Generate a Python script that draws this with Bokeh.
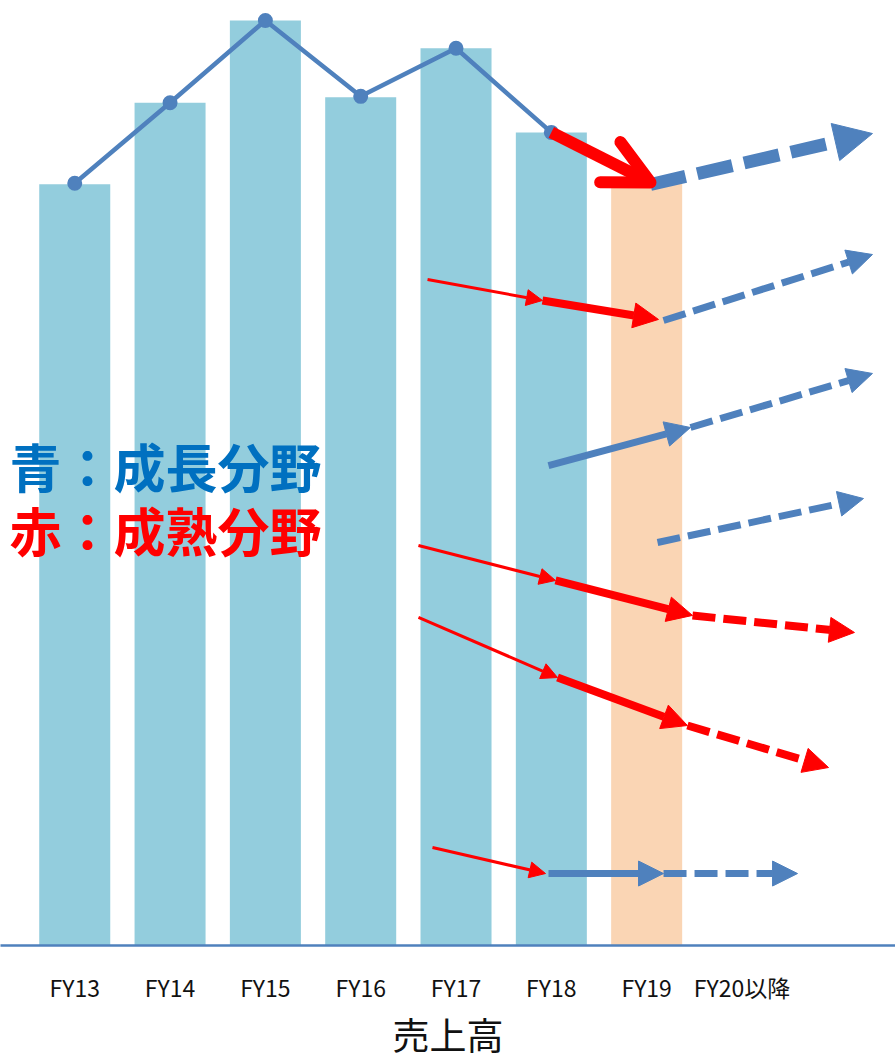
from bokeh.plotting import figure
from bokeh.models import (Range1d, FixedTicker, Arrow, NormalHead, OpenHead,
                          ColumnDataSource, Label)
from bokeh.embed import file_html
from bokeh.resources import INLINE

# ---------------- data ----------------
years = ["FY13", "FY14", "FY15", "FY16", "FY17", "FY18", "FY19", "FY20以降"]
sales = [82.3, 91.1, 100.0, 91.7, 97.0, 87.9, 82.7]          # FY13..FY19 (FY19 = forecast)
trend = [82.4, 91.1, 100.0, 91.8, 97.0, 87.9]                  # actual line FY13..FY18

# trend arrows: (x = year index, y = sales scale)
thin_red = dict(x0=[3.701, 3.606, 3.606, 3.753], y0=[72.0, 43.24, 35.46, 10.59],
                x1=[4.907, 5.044, 5.065, 4.939], y1=[69.73, 39.46, 28.97, 7.78])
thick_red = dict(x0=[4.907, 5.044, 5.065], y0=[69.73, 39.46, 28.97],
                 x1=[6.124, 6.481, 6.428], y1=[67.68, 35.68, 23.78])
red_future = dict(x0=[6.481, 6.428], y0=[35.68, 23.78],
                  x1=[8.180, 7.908], y1=[33.84, 19.24])
blue_now = dict(x0=[4.970, 4.970], y0=[51.89, 7.78],
                x1=[6.460, 6.177], y1=[56.0, 7.78])
blue_future = dict(x0=[6.177, 6.460, 6.114, 6.177], y0=[67.57, 56.0, 43.57, 7.78],
                   x1=[8.369, 8.369, 8.275, 7.583], y1=[74.70, 61.84, 48.32, 7.78])
total_now = dict(x0=[5.0], y0=[87.9], x1=[6.040], y1=[82.49])
total_future = dict(x0=[6.040], y0=[82.27], x1=[8.369], y1=[87.78])

legend_blue = "青：成長分野"
legend_red = "赤：成熟分野"
axis_title = "売上高"

# ---------------- style ----------------
BAR = "#93CDDD"
FCST = "#FAD5B4"
LINE = "#4F81BD"
RED = "#FF0000"
TXT_BLUE = "#0070C0"
FONT = "Noto Sans CJK JP"

p = figure(width=895, height=1064, output_backend="svg", toolbar_location=None,
           x_range=Range1d(-0.7789, 8.6106), y_range=Range1d(0, 102.16),
           min_border_left=0, min_border_right=0, min_border_top=0, min_border_bottom=119)
p.outline_line_color = None
p.grid.visible = False
p.yaxis.visible = False
p.background_fill_color = "white"
p.border_fill_color = "white"

idx = list(range(len(sales)))
colors = [BAR] * 6 + [FCST]
p.vbar(x=idx, top=sales, bottom=0, width=0.745, fill_color=colors, line_color=None)

p.line(x=idx[:6], y=trend, line_color=LINE, line_width=4.5)
p.scatter(x=idx[:6], y=trend, size=15, fill_color=LINE, line_color=None)


def arrows(d, color, width, head, dash="solid"):
    src = ColumnDataSource(d)
    p.add_layout(Arrow(x_start="x0", y_start="y0", x_end="x1", y_end="y1", source=src,
                       line_color=color, line_width=width, line_dash=dash,
                       end=NormalHead(size=head, fill_color=color, line_color=color,
                                      line_width=1)))


arrows(thin_red, RED, 3, 16)
arrows(thick_red, RED, 8, 25)
arrows(red_future, RED, 8, 25, "23 8")
arrows(blue_now, LINE, 7, 25)
arrows(blue_future, LINE, 7, 25, "23 8")
arrows(total_future, LINE, 13, 38, "36 12")
p.add_layout(Arrow(x_start="x0", y_start="y0", x_end="x1", y_end="y1",
                   source=ColumnDataSource(total_now), line_color=RED, line_width=12,
                   end=OpenHead(size=45, line_color=RED, line_width=12,
                                line_cap="round", line_join="round")))

p.add_layout(Label(x=-0.684, y=51.84, text=legend_blue, text_color=TXT_BLUE,
                   text_font=FONT, text_font_size="52px", text_font_style="bold",
                   text_baseline="middle"))
p.add_layout(Label(x=-0.684, y=44.97, text=legend_red, text_color=RED,
                   text_font=FONT, text_font_size="52px", text_font_style="bold",
                   text_baseline="middle"))

ax = p.xaxis[0]
ax.ticker = FixedTicker(ticks=list(range(len(years))))
ax.major_label_overrides = {i: y for i, y in enumerate(years)}
ax.major_tick_line_color = None
ax.minor_tick_line_color = None
ax.major_tick_out = 0
ax.major_label_standoff = 24
ax.major_label_text_font = FONT
ax.major_label_text_font_size = "23px"
ax.major_label_text_color = "#111111"
ax.axis_line_color = LINE
ax.axis_line_width = 2.5
ax.axis_label = axis_title
ax.axis_label_text_font = FONT
ax.axis_label_text_font_size = "37px"
ax.axis_label_text_font_style = "normal"
ax.axis_label_text_color = "#111111"
ax.axis_label_standoff = 0

open("out.html", "w").write(file_html(p, INLINE))
